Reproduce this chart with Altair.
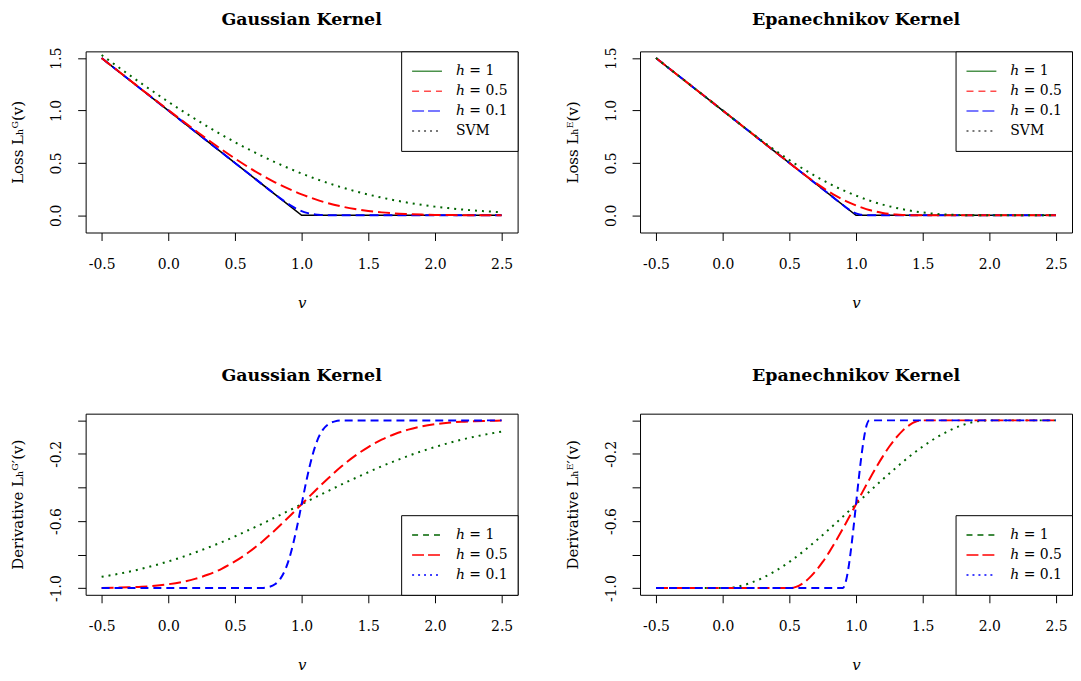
import altair as alt
import pandas as pd

# ---------------- data ----------------
v_grid = [-0.5, -0.4, -0.3, -0.2, -0.1, 0.0, 0.1, 0.2, 0.3, 0.4, 0.5, 0.6, 0.7, 0.8, 0.9,
          1.0, 1.1, 1.2, 1.3, 1.4, 1.5, 1.6, 1.7, 1.8, 1.9, 2.0, 2.1, 2.2, 2.3, 2.4, 2.5]

hinge_v = [-0.5, 1.0, 2.5]
hinge_loss = [1.5, 0.0, 0.0]

# Gaussian kernel, loss
gauss_loss_h1 = [1.529, 1.437, 1.346, 1.256, 1.169, 1.083, 1.000, 0.920, 0.843, 0.769, 0.698,
                 0.631, 0.567, 0.507, 0.451, 0.399, 0.351, 0.307, 0.267, 0.231, 0.198, 0.169,
                 0.143, 0.120, 0.100, 0.083, 0.069, 0.056, 0.046, 0.037, 0.029]
gauss_loss_h05 = [1.500, 1.400, 1.301, 1.201, 1.103, 1.004, 0.907, 0.812, 0.718, 0.628, 0.542,
                  0.460, 0.384, 0.315, 0.254, 0.200, 0.154, 0.115, 0.084, 0.060, 0.042, 0.028,
                  0.018, 0.012, 0.007, 0.004, 0.003, 0.001, 0.001, 0.000, 0.000]
gauss_v_h01 = [-0.5, 0.7, 0.75, 0.8, 0.84, 0.88, 0.92, 0.96, 1.0, 1.04, 1.08, 1.12, 1.16, 1.2,
               1.25, 1.3, 2.5]
gauss_loss_h01 = [1.5, 0.3, 0.25, 0.201, 0.162, 0.126, 0.092, 0.063, 0.040, 0.023, 0.012,
                  0.006, 0.002, 0.001, 0.000, 0.000, 0.000]

# Epanechnikov kernel, loss
epan_loss_h1 = [1.5, 1.4, 1.3, 1.2, 1.1, 1.0, 0.900, 0.802, 0.706, 0.614, 0.527, 0.446, 0.371,
                0.302, 0.241, 0.188, 0.141, 0.102, 0.071, 0.046, 0.027, 0.014, 0.006, 0.002,
                0.000, 0.0, 0.0, 0.0, 0.0, 0.0, 0.0]
epan_v_h05 = [-0.5, 0.5, 0.55, 0.6, 0.65, 0.7, 0.75, 0.8, 0.85, 0.9, 0.95, 1.0, 1.05, 1.1, 1.15,
              1.2, 1.25, 1.3, 1.35, 1.4, 1.45, 1.5, 2.5]
epan_loss_h05 = [1.5, 0.5, 0.450, 0.401, 0.353, 0.307, 0.264, 0.223, 0.185, 0.151, 0.121, 0.094,
                 0.071, 0.051, 0.035, 0.023, 0.014, 0.007, 0.003, 0.001, 0.000, 0.0, 0.0]
epan_v_h01 = [-0.5, 0.9, 0.92, 0.94, 0.96, 0.98, 1.0, 1.02, 1.04, 1.06, 1.08, 1.1, 2.5]
epan_loss_h01 = [1.5, 0.1, 0.080, 0.061, 0.045, 0.030, 0.019, 0.010, 0.005, 0.001, 0.000, 0.0, 0.0]

# Gaussian kernel, derivative
gauss_der_h1 = [-0.933, -0.919, -0.903, -0.885, -0.864, -0.841, -0.816, -0.788, -0.758, -0.726,
                -0.692, -0.655, -0.618, -0.579, -0.540, -0.500, -0.460, -0.421, -0.382, -0.345,
                -0.309, -0.274, -0.242, -0.212, -0.184, -0.159, -0.136, -0.115, -0.097, -0.081,
                -0.067]
gauss_der_h05 = [-0.999, -0.997, -0.995, -0.992, -0.986, -0.977, -0.964, -0.945, -0.919, -0.885,
                 -0.841, -0.788, -0.726, -0.655, -0.579, -0.500, -0.421, -0.345, -0.274, -0.212,
                 -0.159, -0.115, -0.081, -0.055, -0.036, -0.023, -0.014, -0.008, -0.005, -0.003,
                 -0.001]
gauss_der_h01 = [-1.0, -0.999, -0.994, -0.977, -0.945, -0.885, -0.788, -0.655, -0.500, -0.345,
                 -0.212, -0.115, -0.055, -0.023, -0.006, -0.001, 0.0]

# Epanechnikov kernel, derivative
epan_v_h1 = [-0.5, 0.0, 0.1, 0.2, 0.3, 0.4, 0.5, 0.6, 0.7, 0.8, 0.9, 1.0, 1.1, 1.2, 1.3, 1.4,
             1.5, 1.6, 1.7, 1.8, 1.9, 2.0, 2.5]
epan_der_h1 = [-1.0, -1.0, -0.993, -0.972, -0.939, -0.896, -0.844, -0.784, -0.718, -0.648,
               -0.575, -0.5, -0.425, -0.352, -0.282, -0.216, -0.156, -0.104, -0.061, -0.028,
               -0.007, 0.0, 0.0]
epan_der_h05 = [-1.0, -1.0, -0.993, -0.972, -0.939, -0.896, -0.844, -0.784, -0.718, -0.648,
                -0.575, -0.5, -0.425, -0.352, -0.282, -0.216, -0.156, -0.104, -0.061, -0.028,
                -0.007, 0.0, 0.0]
epan_der_h01 = [-1.0, -1.0, -0.972, -0.896, -0.784, -0.648, -0.5, -0.352, -0.216, -0.104,
                -0.028, 0.0, 0.0]

x_ticks = [-0.5, 0.0, 0.5, 1.0, 1.5, 2.0, 2.5]
loss_ticks = [0.0, 0.5, 1.0, 1.5]
der_ticks = [-1.0, -0.8, -0.6, -0.4, -0.2, 0.0]

legend_top_labels = ["ℎ = 1", "ℎ = 0.5", "ℎ = 0.1", "SVM"]
legend_bot_labels = ["ℎ = 1", "ℎ = 0.5", "ℎ = 0.1"]

GREEN, RED, BLUE, BLACK = "#006400", "#FF0000", "#0000FF", "#000000"
FONT = "DejaVu Serif"
W, H = 434, 182

MINUS_FIX = "replace(format(datum.value, '.1f'), '\u2212', '-')"


def x_enc():
    return alt.X("v:Q",
                 scale=alt.Scale(domain=[-0.62, 2.62], nice=False, zero=False),
                 axis=alt.Axis(values=x_ticks, title="v", labelExpr=MINUS_FIX,
                               titleFontStyle="italic", titleY=70, titleBaseline="middle",
                               labelBaseline="middle", labelPadding=24, labelFlush=False))


def y_enc(domain, ticks, title, label_expr):
    return alt.Y("y:Q",
                 scale=alt.Scale(domain=domain, nice=False, zero=False),
                 axis=alt.Axis(values=ticks, title=title, labelExpr=label_expr,
                               labelAngle=270, labelAlign="center", labelBaseline="middle",
                               labelPadding=21, titleAngle=270, titleX=-68, titleY=H / 2,
                               titleAlign="center", titleBaseline="middle"))


def line(v, y, color, dash, interp, xe, ye, width=2):
    df = pd.DataFrame({"v": v, "y": y})
    kw = dict(color=color, strokeWidth=width, interpolate=interp, clip=True)
    if dash:
        kw["strokeDash"] = dash
    return alt.Chart(df).mark_line(**kw).encode(x=xe, y=ye)


def legend_layer(labels, colors, dashes, orient, field, xe, ye, opacity):
    n = len(labels)
    df = pd.DataFrame({field: labels, "v": [float("nan")] * n, "y": [float("nan")] * n})
    leg = dict(title=None, orient=orient, offset=0, strokeColor="black", fillColor="white",
               padding=10, symbolType="stroke", symbolSize=900, symbolStrokeWidth=1.5,
               symbolOpacity=opacity, clipHeight=20, rowPadding=0, labelOffset=13,
               labelFont=FONT, labelFontSize=14, labelColor="black", cornerRadius=0)
    return alt.Chart(df).mark_line(strokeWidth=1.5).encode(
        x=xe, y=ye,
        color=alt.Color(f"{field}:N", scale=alt.Scale(domain=labels, range=colors),
                        legend=alt.Legend(**leg)),
        strokeDash=alt.StrokeDash(f"{field}:N", scale=alt.Scale(domain=labels, range=dashes),
                                  legend=alt.Legend(**leg)),
    )


def title(text, offset):
    return alt.TitleParams(text=text, font=FONT, fontSize=17.5, fontWeight="bold",
                           color="black", anchor="middle", offset=offset, baseline="alphabetic")


loss_dom = [-0.164, 1.564]
der_dom = [-1.04, 0.04]
der_labels = ("(abs(datum.value + 1) < 1e-6 || abs(datum.value + 0.6) < 1e-6 || "
              "abs(datum.value + 0.2) < 1e-6) ? " + MINUS_FIX + " : ''")

top_leg_colors = [GREEN, RED, BLUE, BLACK]
top_leg_dashes = [[1, 0], [7, 5], [12, 4], [2, 4]]
bot_leg_colors = [GREEN, RED, BLUE]
bot_leg_dashes = [[6, 5], [12, 4], [2, 4]]


def loss_panel(name, ytitle, h1, v05, h05, v01, h01, field):
    xe = x_enc()
    ye = y_enc(loss_dom, loss_ticks, ytitle, MINUS_FIX)
    layers = [
        line(hinge_v, hinge_loss, BLACK, None, "linear", xe, ye, width=1.6),
        line(v01, h01, BLUE, [9, 5], "monotone", xe, ye),
        line(v05, h05, RED, [12, 5], "monotone", xe, ye),
        line(v_grid, h1, GREEN, [2, 5], "monotone", xe, ye),
        legend_layer(legend_top_labels, top_leg_colors, top_leg_dashes, "top-right", field,
                     xe, ye, 0.7),
    ]
    return alt.layer(*layers).properties(width=W, height=H, title=title(name, 5))


def der_panel(name, ytitle, v1, d1, v05, d05, v01, d01, field):
    xe = x_enc()
    ye = y_enc(der_dom, der_ticks, ytitle, der_labels)
    layers = [
        line(v1, d1, GREEN, [2, 5], "monotone", xe, ye),
        line(v05, d05, RED, [12, 5], "monotone", xe, ye),
        line(v01, d01, BLUE, [8, 5], "monotone", xe, ye),
        legend_layer(legend_bot_labels, bot_leg_colors, bot_leg_dashes, "bottom-right", field,
                     xe, ye, 1.0),
    ]
    return alt.layer(*layers).properties(width=W, height=H, title=title(name, 15))


tl = loss_panel("Gaussian Kernel", "Loss Lₕᴳ(v)", gauss_loss_h1, v_grid, gauss_loss_h05,
                gauss_v_h01, gauss_loss_h01, "lab_tl")
tr = loss_panel("Epanechnikov Kernel", "Loss Lₕᴱ(v)", epan_loss_h1, epan_v_h05, epan_loss_h05,
                epan_v_h01, epan_loss_h01, "lab_tr")
bl = der_panel("Gaussian Kernel", "Derivative Lₕᴳ′(v)", v_grid, gauss_der_h1, v_grid,
               gauss_der_h05, gauss_v_h01, gauss_der_h01, "lab_bl")
br = der_panel("Epanechnikov Kernel", "Derivative Lₕᴱ′(v)", epan_v_h1, epan_der_h1, epan_v_h05,
               epan_der_h05, epan_v_h01, epan_der_h01, "lab_br")

chart = alt.concat(tl, tr, bl, br, columns=2, spacing={"row": 182, "column": 123},
                   bounds="flush").resolve_scale(
    x="independent", y="independent", color="independent", strokeDash="independent"
).resolve_legend(color="independent", strokeDash="independent").properties(
    padding={"left": 2, "top": 0, "right": 0, "bottom": 0}, background="white"
).configure_view(stroke="black", strokeWidth=1).configure_axis(
    domain=False, grid=False, tickSize=8, tickColor="black", tickWidth=1,
    labelFont=FONT, labelFontSize=14, labelColor="black", labelOverlap=False,
    titleFont=FONT, titleFontSize=15, titleFontWeight="normal", titleColor="black"
)

chart.save("out.html", embed_options={"renderer": "svg", "actions": False})
